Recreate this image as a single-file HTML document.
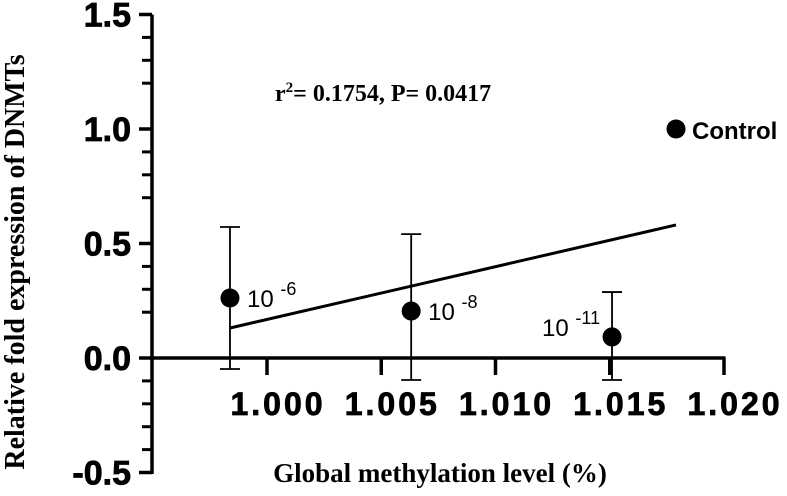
<!DOCTYPE html>
<html><head><meta charset="utf-8"><style>
html,body{margin:0;padding:0;background:#fff;}
svg{display:block;}
.tk{font-family:"Liberation Sans",sans-serif;font-weight:bold;font-size:34px;fill:#000;stroke:#000;stroke-width:0.8px;}
.xk{letter-spacing:3px;font-size:32px;}
.sf{font-family:"Liberation Serif",serif;font-weight:bold;fill:#000;}
.lb{font-family:"Liberation Sans",sans-serif;font-size:24px;fill:#000;}
</style></head><body>
<svg id="chart" width="787" height="496"></svg>
<script>
const xTicks=[1.000,1.005,1.010,1.015,1.020];
const xTickLabels=["1.000","1.005","1.010","1.015","1.020"];
const yTicks=[1.5,1.0,0.5,0.0,-0.5];
const yTickLabels=["1.5","1.0","0.5","0.0","-0.5"];
const yMinor=[1.4,1.3,1.2,0.9,0.8,0.7,0.4,0.3,0.2,-0.1,-0.2,-0.3,-0.4];
const ptNames=["10 -6","10 -8","10 -11","Control"];
const ptX=[0.99838,1.00631,1.0151,1.0179];
const ptY=[0.262,0.205,0.092,1.0];
const errHi=[0.572,0.541,0.288,null];
const errLo=[-0.048,-0.096,-0.096,null];
const fitX=[0.99838,1.0179];
const fitY=[0.131,0.581];
const NS="http://www.w3.org/2000/svg";
const svg=document.getElementById('chart');
const X=v=>267+(v-1.0)/0.005*114.25;
const Y=v=>358-v*229;
function mk(t,a,p){const e=document.createElementNS(NS,t);for(const k in a)e.setAttribute(k,a[k]);(p||svg).appendChild(e);return e;}
let ya=mk('line',{x1:152,y1:Y(1.5),x2:152,y2:Y(-0.5)+1.5,stroke:'#000','stroke-width':3.5});


let xa=mk('line',{x1:150,y1:Y(0),x2:X(1.02)+1.5,y2:Y(0),stroke:'#000','stroke-width':3.5});


yTicks.forEach((v,i)=>{
  let t=mk('line',{x1:139,y1:Y(v),x2:152,y2:Y(v),stroke:'#000','stroke-width':3.5});
  
  
  let l=mk('text',{x:131,y:Y(v)+12,'text-anchor':'end',class:'tk'});
  l.textContent=yTickLabels[i];
  
  
});
yMinor.forEach(v=>{
  let t=mk('line',{x1:142,y1:Y(v),x2:152,y2:Y(v),stroke:'#000','stroke-width':3});
  
  
});
xTicks.forEach((v,i)=>{
  let t=mk('line',{x1:X(v),y1:Y(0),x2:X(v),y2:Y(0)+17,stroke:'#000','stroke-width':3.5});
  
  
  let l=mk('text',{x:X(v)+11,y:415,'text-anchor':'middle',class:'tk xk'});
  l.textContent=xTickLabels[i];
  
  
});
let fl=mk('line',{x1:X(fitX[0]),y1:Y(fitY[0]),x2:X(fitX[1]),y2:Y(fitY[1]),stroke:'#000','stroke-width':3});


ptX.forEach((xv,i)=>{
  const cx=X(xv),cy=Y(ptY[i]);
  if(errHi[i]!==null){
    let e=mk('path',{d:`M${cx},${Y(errHi[i])}V${Y(errLo[i])}M${cx-10},${Y(errHi[i])}H${cx+10}M${cx-10},${Y(errLo[i])}H${cx+10}`,stroke:'#000','stroke-width':1.8,fill:'none'});
    
    
  }
  let c=mk('circle',{cx:cx,cy:cy,r:9.5,fill:'#000'});
  
  
  let lab;
  if(ptNames[i]==="Control"){
    lab=mk('text',{x:cx+16,y:cy+10,class:'lb','font-weight':'bold','font-size':'26'});
    lab.textContent="Control";
  } else {
    const parts=ptNames[i].split(' ');
    const right=i<2;
    lab=mk('text',{x:right?cx+17:cx-70,y:cy+(i===2?-1:9),class:'lb'});
    const a=mk('tspan',{},lab);a.textContent=parts[0]+" ";
    const b=mk('tspan',{dy:-12,'font-size':'18'},lab);b.textContent=parts[1];
  }
  
  
});
let an=mk('text',{x:275,y:101,class:'sf','font-size':'24'});


let s1=mk('tspan',{},an);s1.textContent="r";
let s2=mk('tspan',{dy:-9,'font-size':'15'},an);s2.textContent="2";
let s3=mk('tspan',{dy:9},an);s3.textContent="= 0.1754, P= 0.0417";
let xt=mk('text',{x:440,y:482,'text-anchor':'middle',class:'sf','font-size':'27'});
xt.textContent="Global methylation level (%)";


let yt=mk('text',{x:0,y:0,'text-anchor':'middle',class:'sf','font-size':'28',transform:'translate(24,262) rotate(-90)'});
yt.textContent="Relative fold expression of DNMTs";


</script>
</body></html>
